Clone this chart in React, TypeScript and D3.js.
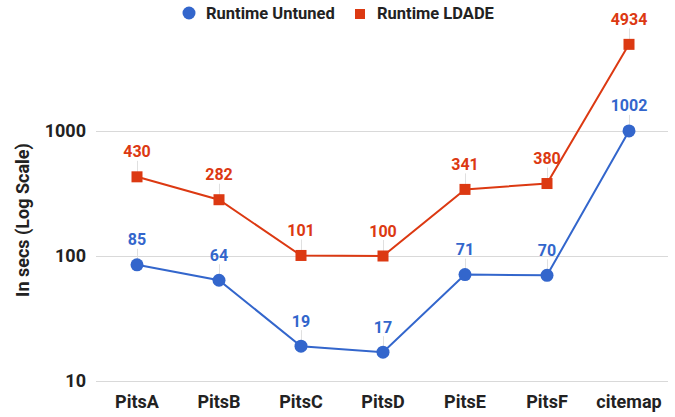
import React, { useEffect, useRef } from 'react';
import * as d3 from 'd3';

const categories = ['PitsA', 'PitsB', 'PitsC', 'PitsD', 'PitsE', 'PitsF', 'citemap'];
const untuned = [85, 64, 19, 17, 71, 70, 1002];
const ldade = [430, 282, 101, 100, 341, 380, 4934];
const yTicks = [10, 100, 1000];

const BLUE = '#3366cc';
const RED = '#dc3912';

const App = () => {
  const svgRef = useRef<SVGSVGElement | null>(null);

  useEffect(() => {
    if (!svgRef.current) return;
    const svg = d3.select(svgRef.current);
    svg.selectAll('*').remove();
    svg.style('font-family', 'Roboto, sans-serif');

    // plot area
    const x = d3.scaleBand<string>().domain(categories).range([96, 670]);
    const y = d3.scaleLog().domain([10, 1000]).range([381, 131]);
    const cx = (c: string) => (x(c) as number) + x.bandwidth() / 2;

    // gridlines
    svg.append('g')
      .selectAll('line')
      .data(yTicks)
      .enter()
      .append('line')
      .attr('x1', 96)
      .attr('x2', 668)
      .attr('y1', d => Math.round(y(d)) + 0.5)
      .attr('y2', d => Math.round(y(d)) + 0.5)
      .style('stroke', '#d9d9d9')
      .style('stroke-width', 1);

    // y tick labels
    svg.append('g')
      .selectAll('text')
      .data(yTicks)
      .enter()
      .append('text')
      .attr('x', 86)
      .attr('y', d => y(d))
      .attr('dy', '0.35em')
      .attr('text-anchor', 'end')
      .style('font-size', '18px')
      .style('font-weight', 'bold')
      .style('fill', '#222')
      .text(d => d);

    // y title
    svg.append('text')
      .attr('transform', 'translate(23, 220) rotate(-90)')
      .attr('text-anchor', 'middle')
      .attr('dy', '0.35em')
      .style('font-size', '18px')
      .style('font-weight', 'bold')
      .style('fill', '#222')
      .text('In secs (Log Scale)');

    // x labels
    svg.append('g')
      .selectAll('text')
      .data(categories)
      .enter()
      .append('text')
      .attr('x', d => cx(d))
      .attr('y', 402)
      .attr('dy', '0.35em')
      .attr('text-anchor', 'middle')
      .style('font-size', '18px')
      .style('font-weight', 'bold')
      .style('fill', '#222')
      .text(d => d);

    const series = [
      { name: 'Runtime LDADE', values: ldade, color: RED, shape: 'square' },
      { name: 'Runtime Untuned', values: untuned, color: BLUE, shape: 'circle' },
    ];

    const line = d3.line<number>()
      .x((_, i) => cx(categories[i]))
      .y(d => y(d));

    series.forEach(s => {
      const g = svg.append('g');

      // annotation stems
      g.selectAll('line.stem')
        .data(s.values)
        .enter()
        .append('line')
        .attr('class', 'stem')
        .attr('x1', (_, i) => cx(categories[i]) + 0.5)
        .attr('x2', (_, i) => cx(categories[i]) + 0.5)
        .attr('y1', d => y(d) - 16)
        .attr('y2', d => y(d))
        .style('stroke', '#e0e0e0')
        .style('stroke-width', 1);

      g.append('path')
        .datum(s.values)
        .attr('d', line)
        .style('fill', 'none')
        .style('stroke', s.color)
        .style('stroke-width', 2);

      if (s.shape === 'circle') {
        g.selectAll('circle')
          .data(s.values)
          .enter()
          .append('circle')
          .attr('cx', (_, i) => cx(categories[i]))
          .attr('cy', d => y(d))
          .attr('r', 6.5)
          .style('fill', s.color);
      } else {
        g.selectAll('rect')
          .data(s.values)
          .enter()
          .append('rect')
          .attr('x', (_, i) => cx(categories[i]) - 5.5)
          .attr('y', d => y(d) - 5.5)
          .attr('width', 11)
          .attr('height', 11)
          .style('fill', s.color);
      }

      g.selectAll('text')
        .data(s.values)
        .enter()
        .append('text')
        .attr('x', (_, i) => cx(categories[i]))
        .attr('y', d => y(d) - 25)
        .attr('dy', '0.35em')
        .attr('text-anchor', 'middle')
        .style('font-size', '16px')
        .style('font-weight', 'bold')
        .style('fill', s.color)
        .text(d => d);
    });

    // legend
    const legend = svg.append('g');
    legend.append('circle')
      .attr('cx', 189)
      .attr('cy', 13)
      .attr('r', 6.5)
      .style('fill', BLUE);
    legend.append('text')
      .attr('x', 206)
      .attr('y', 13)
      .attr('dy', '0.35em')
      .style('font-size', '16.5px')
      .style('font-weight', 'bold')
      .style('fill', '#222')
      .text('Runtime Untuned');
    legend.append('rect')
      .attr('x', 355)
      .attr('y', 9)
      .attr('width', 10)
      .attr('height', 10)
      .style('fill', RED);
    legend.append('text')
      .attr('x', 377)
      .attr('y', 13)
      .attr('dy', '0.35em')
      .style('font-size', '16.5px')
      .style('font-weight', 'bold')
      .style('fill', '#222')
      .text('Runtime LDADE');
  }, []);

  return (
    <svg
      ref={svgRef}
      width={675}
      height={417}
      style={{ position: 'absolute', left: 0, top: 0, background: '#fff' }}
    />
  );
};

export default App;
